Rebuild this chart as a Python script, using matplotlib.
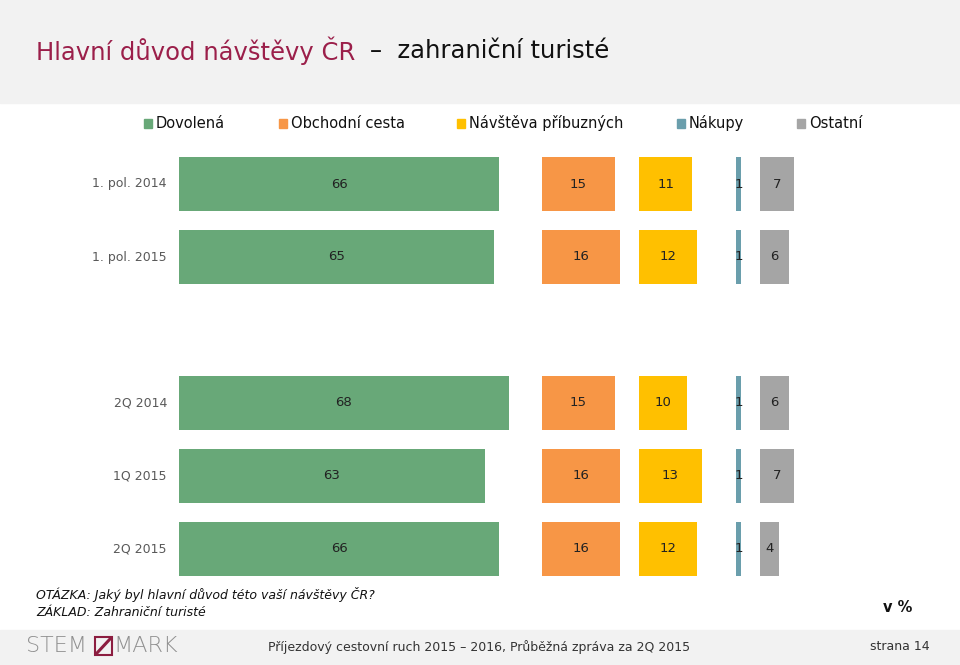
import matplotlib.pyplot as plt
from matplotlib.patches import Rectangle
from matplotlib.lines import Line2D

# data
rows = ["1. pol. 2014", "1. pol. 2015", "", "2Q 2014", "1Q 2015", "2Q 2015"]
categories = ["Dovolená", "Obchodní cesta", "Návštěva příbuzných", "Nákupy", "Ostatní"]
dovolena = [66, 65, None, 68, 63, 66]
obchodni = [15, 16, None, 15, 16, 16]
navsteva = [11, 12, None, 10, 13, 12]
nakupy = [1, 1, None, 1, 1, 1]
ostatni = [7, 6, None, 6, 7, 4]

colors = ["#68a878", "#f79646", "#ffc000", "#6a9eac", "#a5a5a5"]
# horizontal start of each category panel (in data units)
scale = 4.85
offsets = [0, (542 - 179) / scale, (639 - 179) / scale, (736 - 179) / scale, (760 - 179) / scale]

W, H = 960, 665
fig = plt.figure(figsize=(9.6, 6.65), dpi=100)
plt.rcParams['font.family'] = ['DejaVu Sans']

# header / footer bands
fig.patches.append(Rectangle((0, 1 - 103 / H), 1, 103 / H, transform=fig.transFigure,
                             color="#f2f2f2", zorder=0))
fig.patches.append(Rectangle((0, 0), 1, 35 / H, transform=fig.transFigure,
                             color="#f2f2f2", zorder=0))

fig.text(36 / W, 1 - 51 / H, "Hlavní důvod návštěvy ČR", color="#9b1f4a",
         fontsize=17.5, va="center", ha="left")
fig.text(370 / W, 1 - 51 / H, "–  zahraniční turisté", color="#111111",
         fontsize=17.5, va="center", ha="left")

# chart axes
left_px, right_px = 179, 830
ax = fig.add_axes([left_px / W, 1 - 585.5 / H, (right_px - left_px) / W, 438 / H])
ax.set_xlim(0, (right_px - left_px) / scale)
ax.set_ylim(5.5, -0.5)
ax.axis("off")

series = [dovolena, obchodni, navsteva, nakupy, ostatni]
for vals, col, off in zip(series, colors, offsets):
    for i, v in enumerate(vals):
        if v is None:
            continue
        ax.barh(i, v, left=off, height=0.75, color=col)
        ax.text(off + v / 2, i, str(v), ha="center", va="center",
                fontsize=9.5, color="#222222")

for i, r in enumerate(rows):
    ax.text(-2.5, i, r, ha="right", va="center", fontsize=9, color="#595959")

# legend
leg_x = [144, 279, 457, 677, 797]
for x, c, name in zip(leg_x, colors, categories):
    fig.patches.append(Rectangle((x / W, 1 - 127.5 / H), 8 / W, 8 / H,
                                 transform=fig.transFigure, color=c))
    fig.text((x + 12) / W, 1 - 123 / H, name, fontsize=10.5, va="center",
             ha="left", color="#111111")

# notes
fig.text(36 / W, 1 - 595 / H, "OTÁZKA: Jaký byl hlavní důvod této vaší návštěvy ČR?",
         fontsize=9, style="italic", va="center", color="#111111")
fig.text(36 / W, 1 - 612 / H, "ZÁKLAD: Zahraniční turisté",
         fontsize=9, style="italic", va="center", color="#111111")
fig.text(898 / W, 1 - 607 / H, "v %", fontsize=10.5, fontweight="bold",
         ha="center", va="center", color="#111111")

# footer
fig.text(26 / W, 1 - 646 / H, "STEM", fontsize=16, color="#909090",
         va="center", ha="left", fontweight="light")
fig.patches.append(Rectangle((95 / W, 1 - 655 / H), 17 / W, 18 / H,
                             transform=fig.transFigure, fill=False,
                             edgecolor="#8c1d40", lw=1.5))
fig.lines.append(Line2D([97 / W, 110 / W], [1 - 653 / H, 1 - 639 / H],
                        transform=fig.transFigure, color="#8c1d40", lw=2.2))
fig.text(113 / W, 1 - 646 / H, "MARK", fontsize=16, color="#909090",
         va="center", ha="left", fontweight="light")
fig.text(479 / W, 1 - 647 / H,
         "Příjezdový cestovní ruch 2015 – 2016, Průběžná zpráva za 2Q 2015",
         fontsize=9, color="#333333", ha="center", va="center")
fig.text(930 / W, 1 - 647 / H, "strana 14", fontsize=9, color="#333333",
         ha="right", va="center")

fig.savefig("out.png", dpi=100)
